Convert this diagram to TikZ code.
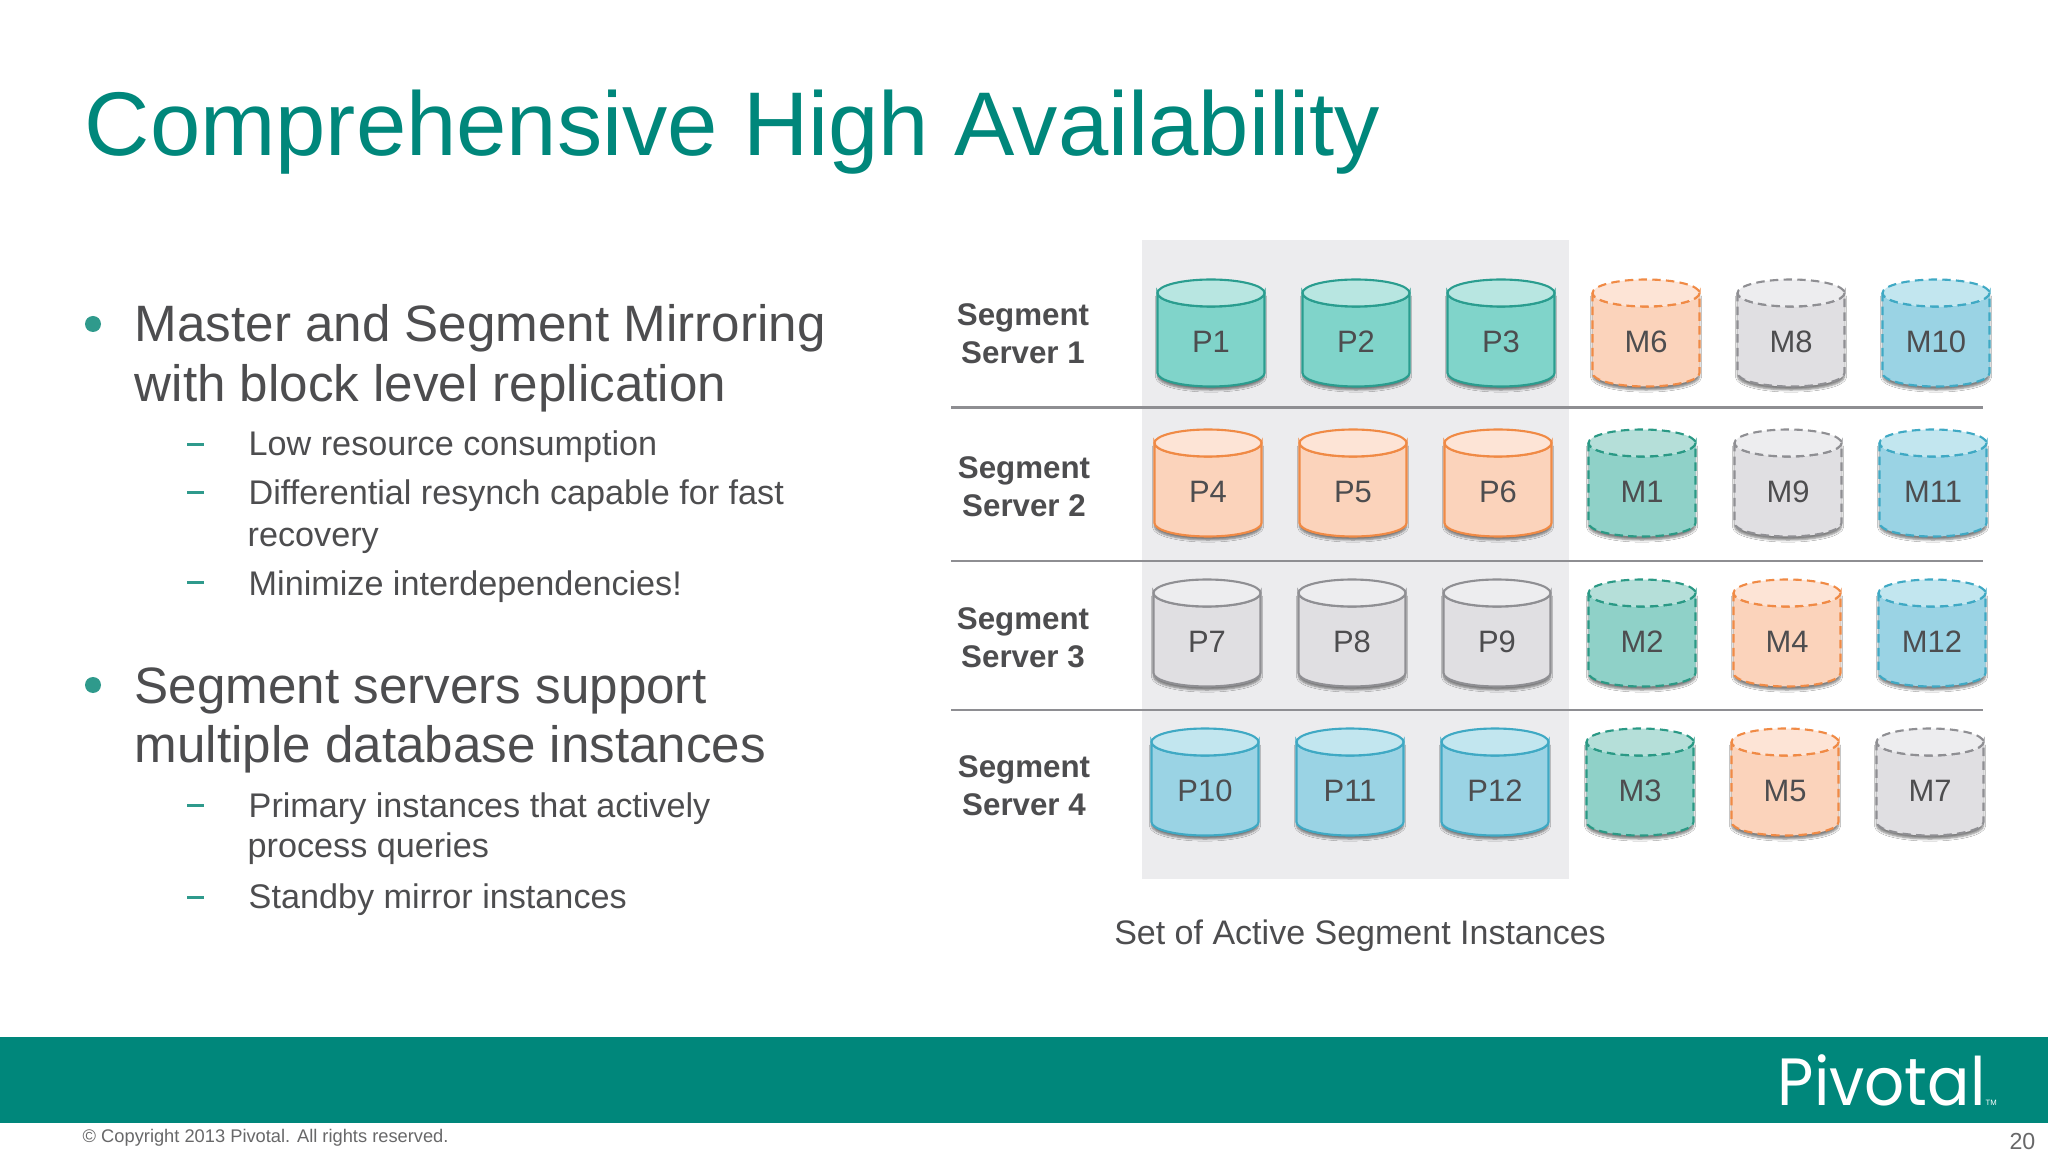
\documentclass[tikz,border=0pt]{standalone}
\usepackage{fontspec}
\setmainfont{Liberation Sans}
\newfontfamily\logofont[FakeStretch=0.94]{Poppins}
\usepackage{tikz}
\usetikzlibrary{shadows,shadows.blur}

\definecolor{pivteal}{HTML}{00877B}
\definecolor{bodygrey}{HTML}{4D4D4F}
\definecolor{panelgrey}{HTML}{ECECEE}
\definecolor{rulegrey}{HTML}{8E8E92}
\definecolor{dotteal}{HTML}{2F9A8C}
% Farben der Instanzen
\definecolor{tealfill}{HTML}{80D4CA}\definecolor{tealtop}{HTML}{B8E6E1}\definecolor{tealline}{HTML}{2A9D8F}
\definecolor{mtealfill}{HTML}{8FD1C8}\definecolor{mtealtop}{HTML}{B5DFD9}\definecolor{mtealline}{HTML}{2A9985}
\definecolor{orngfill}{HTML}{FBD3BB}\definecolor{orngtop}{HTML}{FDE4D6}\definecolor{orngline}{HTML}{F08A45}
\definecolor{greyfill}{HTML}{E0DFE2}\definecolor{greytop}{HTML}{EDEDEF}\definecolor{greyline}{HTML}{8F8F93}
\definecolor{bluefill}{HTML}{9AD3E4}\definecolor{bluetop}{HTML}{C2E6EF}\definecolor{blueline}{HTML}{3FA9C4}

\tikzset{
    primary/.style={line width=0.6pt},
    mirror/.style={line width=0.6pt, dash pattern=on 2.4pt off 1.5pt},
    headline/.style={anchor=base west, inner sep=0pt, text=bodygrey, font=\fontsize{14.55}{18}\selectfont},
    subline/.style={anchor=base west, inner sep=0pt, text=bodygrey, font=\fontsize{9.72}{12}\selectfont},
    serverlabel/.style={align=center, inner sep=0pt, text=bodygrey, font=\fontsize{8.9}{10.9}\selectfont\bfseries},
    instlabel/.style={inner sep=0pt, text=bodygrey, font=\fontsize{8.8}{10}\selectfont},
}

% Zylinder: x, y, Name, Farbe, Linienstil
\newcommand{\instance}[5]{
    \begin{scope}[shift={(#1,#2)}]
        \draw[#5, draw=#4line, fill=#4fill,
              blur shadow={shadow xshift=0pt, shadow yshift=-1pt, shadow blur radius=0.6pt, shadow blur steps=5, shadow opacity=50}]
            (-53.5,-49) -- (-53.5,31) arc[start angle=180, end angle=0, x radius=53.5, y radius=13.5] -- (53.5,-49)
            arc[start angle=0, end angle=180, x radius=53.5, y radius=13.5] -- cycle;
        \draw[#5, draw=#4line, fill=#4top] (0,-49) ellipse[x radius=53.5, y radius=13.5];
        \node[instlabel] (#3) at (0,0) {#3};
    \end{scope}
}

\begin{document}
\begin{tikzpicture}[x=0.01cm, y=-0.01cm]
    \useasboundingbox (0,0) rectangle (2048,1152);
    \fill[white] (0,0) rectangle (2048,1152);

    % Titel
    \node[anchor=base west, inner sep=0pt, text=pivteal, font=\fontsize{25.72}{32}\selectfont] (title) at (84,156) {Comprehensive High Availability};

    % Linke Spalte
    \fill[dotteal] (93,324) circle (8);
    \node[headline] (master) at (134,342) {Master and Segment Mirroring};
    \node[headline] (block) at (134,402) {with block level replication};
    \fill[dotteal] (187,443.5) rectangle (204,446);
    \node[subline] (low) at (248,456) {Low resource consumption};
    \fill[dotteal] (187,491.5) rectangle (204,494);
    \node[subline] (diff) at (248,504.5) {Differential resynch capable for fast};
    \node[subline] (recovery) at (247,547) {recovery};
    \fill[dotteal] (187,581.5) rectangle (204,584);
    \node[subline] (minimize) at (248,595.5) {Minimize interdependencies!};

    \fill[dotteal] (93,685) circle (8);
    \node[headline] (servers) at (134,703.5) {Segment servers support};
    \node[headline] (multiple) at (134,762.5) {multiple database instances};
    \fill[dotteal] (187,804) rectangle (204,806.5);
    \node[subline] (actively) at (248,817.5) {Primary instances that actively};
    \node[subline] (queries) at (247,857) {process queries};
    \fill[dotteal] (187,896) rectangle (204,898.5);
    \node[subline] (standby) at (248,908) {Standby mirror instances};

    % Aktive Instanzen
    \fill[panelgrey] (1141.5,240) rectangle (1569,879);

    % Trennlinien
    \foreach \y in {407.5,561,710}
        \draw[rulegrey, line width=0.85pt] (951,\y) -- (1983,\y);

    % Server
    \node[serverlabel] (server1) at (1023,333.5) {Segment\\Server 1};
    \node[serverlabel] (server2) at (1024,487) {Segment\\Server 2};
    \node[serverlabel] (server3) at (1023,638) {Segment\\Server 3};
    \node[serverlabel] (server4) at (1024,786) {Segment\\Server 4};

    % Instanzen
    \foreach \x/\y/\nm/\col/\lin in {
        1211/342/P1/teal/primary, 1356/342/P2/teal/primary, 1501/342/P3/teal/primary,
        1646/342/M6/orng/mirror, 1791/342/M8/grey/mirror, 1936/342/M10/blue/mirror,
        1208/492/P4/orng/primary, 1353/492/P5/orng/primary, 1498/492/P6/orng/primary,
        1642/492/M1/mteal/mirror, 1788/492/M9/grey/mirror, 1933/492/M11/blue/mirror,
        1207/642/P7/grey/primary, 1352/642/P8/grey/primary, 1497/642/P9/grey/primary,
        1642/642/M2/mteal/mirror, 1787/642/M4/orng/mirror, 1932/642/M12/blue/mirror,
        1205/791/P10/blue/primary, 1350/791/P11/blue/primary, 1495/791/P12/blue/primary,
        1640/791/M3/mteal/mirror, 1785/791/M5/orng/mirror, 1930/791/M7/grey/mirror}
        \instance{\x}{\y}{\nm}{\col}{\lin};

    \node[anchor=base, inner sep=0pt, text=bodygrey, font=\fontsize{9.67}{12}\selectfont] (caption) at (1360,944) {Set of Active Segment Instances};

    % Fusszeile
    \fill[pivteal] (0,1037) rectangle (2048,1123);
    \node[anchor=base west, inner sep=0pt, text=white, font=\logofont\fontsize{19}{22}\selectfont] (logo) at (1777,1105) {Pivotal};
    \node[anchor=base west, inner sep=0pt, text=white, font=\fontsize{2.2}{3}\selectfont] (tm) at (1985,1105) {TM};
    \node[anchor=base west, inner sep=0pt, text=bodygrey!85, font=\fontsize{5.2}{7}\selectfont] (copyright) at (82,1142) {© Copyright 2013 Pivotal. All rights reserved.};
    \node[anchor=base east, inner sep=0pt, text=bodygrey!85, font=\fontsize{6.6}{8}\selectfont] (page) at (2036,1149) {20};
\end{tikzpicture}
\end{document}
